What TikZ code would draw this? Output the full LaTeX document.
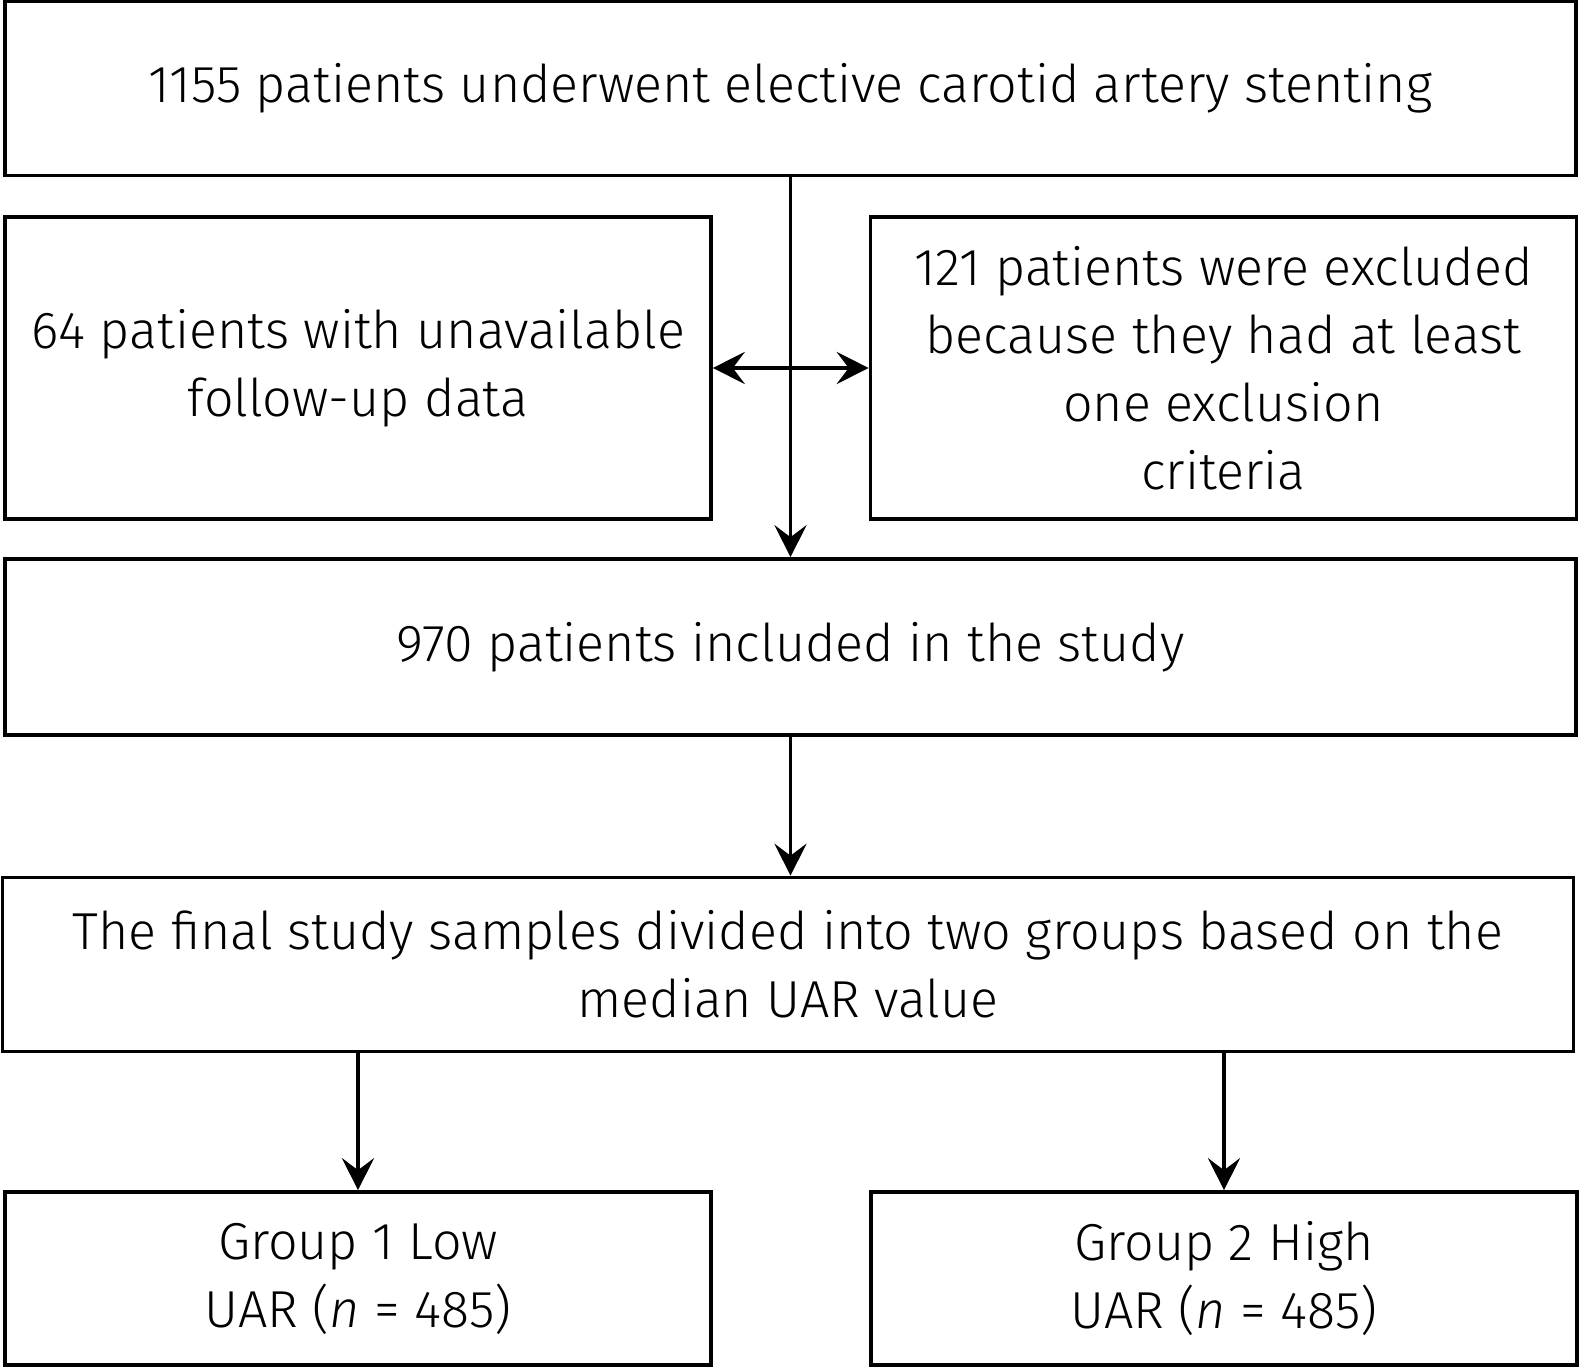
\documentclass[tikz,border=0pt]{standalone}
\usepackage{fontspec}
\setmainfont{Fira Sans Light}
\usetikzlibrary{arrows.meta,positioning}

\begin{document}
\begin{tikzpicture}[x=0.25pt,y=-0.25pt,line width=0.9pt,
		box/.style={draw,line width=0.9pt,inner sep=0pt,align=center,
			font=\fontsize{13}{17}\selectfont},
		wide/.style={box,minimum width=392.75pt,minimum height=43.5pt},
		half/.style={box,minimum width=176.5pt},
		flow/.style={-{Stealth[length=8pt,width=8pt,inset=3pt]}},
		twoway/.style={{Stealth[length=8pt,width=8pt,inset=3pt]}-{Stealth[length=8pt,width=8pt,inset=3pt]}}]
	\useasboundingbox (0,0) rectangle (1579,1368);
	\node[wide] (top)   at (790.5,88.5) {1155 patients underwent elective carotid artery stenting};
	\node[half,minimum height=75.5pt] (lost)  at (358,368)    {64 patients with unavailable\\follow-up data};
	\node[half,minimum height=75.5pt] (excl)  at (1223.5,368) {121 patients were excluded\\because they had at least\\one exclusion\\criteria};
	\node[wide,minimum height=44pt] (study) at (790.5,647) {970 patients included in the study};
	\node[wide] (final) at (788,964.5)  {The final study samples divided into two groups based on the\\median UAR value};
	\node[half,minimum height=43.25pt] (low)  at (358,1278.5)  {Group 1 Low\\UAR (\textit{n} = 485)};
	\node[half,minimum height=43.25pt] (high) at (1224,1278.5) {Group 2 High\\UAR (\textit{n} = 485)};
	\draw[flow] (top.south) -- (study.north);
	\draw[twoway] (lost.east) -- (excl.west);
	\draw[flow] (study.south) -- (study.south |- final.north);
	\draw[flow] (final.south -| low.north) -- (low.north);
	\draw[flow] (final.south -| high.north) -- (high.north);
\end{tikzpicture}
\end{document}
